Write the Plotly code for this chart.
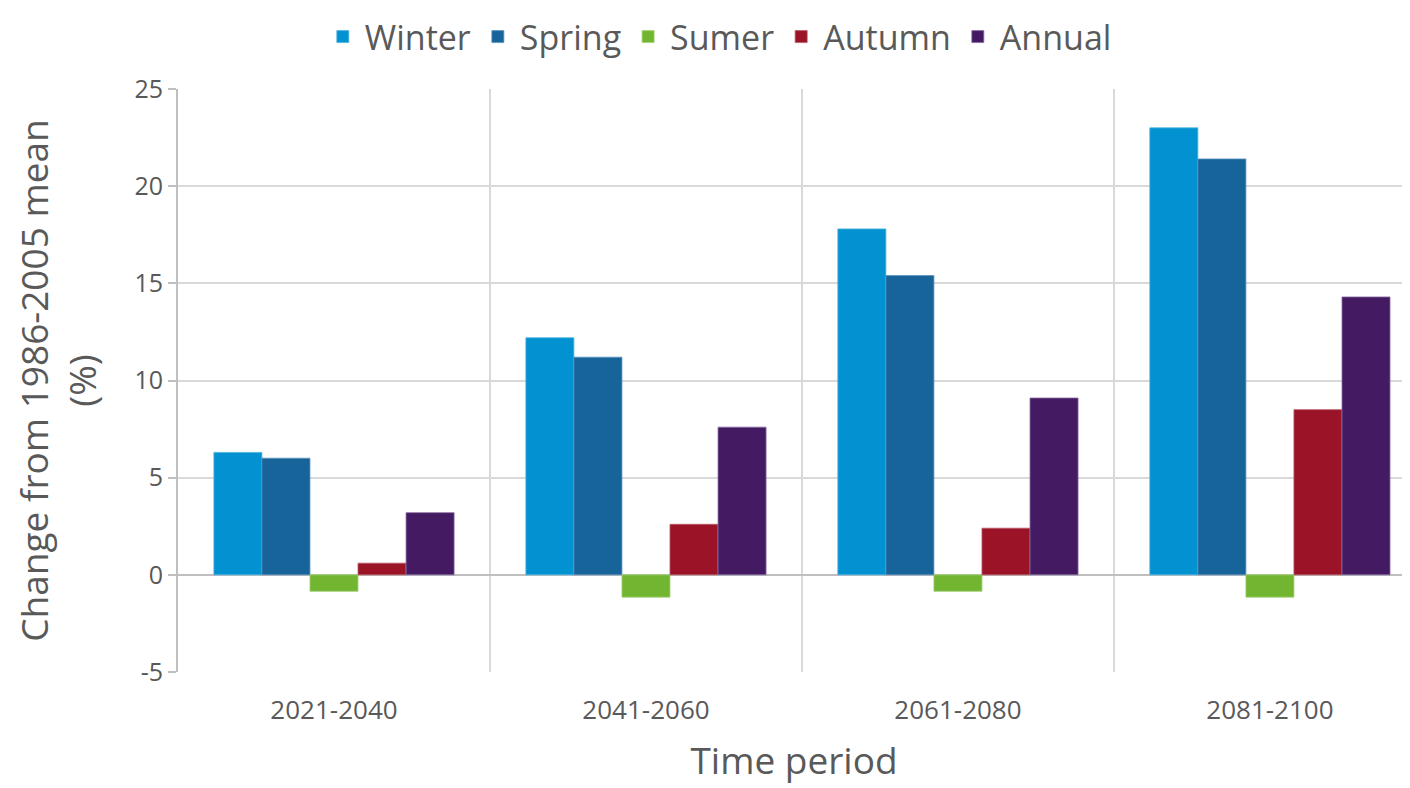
import plotly.graph_objects as go

periods = ["2021-2040", "2041-2060", "2061-2080", "2081-2100"]
winter = [6.3, 12.2, 17.8, 23.0]
spring = [6.0, 11.2, 15.4, 21.4]
sumer = [-0.85, -1.15, -0.85, -1.15]
autumn = [0.6, 2.6, 2.4, 8.5]
annual = [3.2, 7.6, 9.1, 14.3]
y_ticks = [-5, 0, 5, 10, 15, 20, 25]
y_tick_labels = ["-5", "0", "5", "10", "15", "20", "25"]

series = [
    ("Winter", winter, "#0292D2", "#4fb3e0"),
    ("Spring", spring, "#17649A", "#5b92bd"),
    ("Sumer", sumer, "#72B531", "#a3d07a"),
    ("Autumn", autumn, "#9A1326", "#b85a68"),
    ("Annual", annual, "#441B63", "#8a6ea3"),
]

FONT = "Open Sans"
fig = go.Figure()
for name, vals, col, lcol in series:
    fig.add_trace(go.Bar(
        name=name, x=periods, y=vals,
        marker=dict(color=col, line=dict(color=lcol, width=0.8)),
    ))

fig.update_layout(
    width=1402, height=780,
    barmode="group", bargap=0.23, bargroupgap=0,
    plot_bgcolor="white", paper_bgcolor="white",
    margin=dict(l=170, r=0, t=81, b=116, autoexpand=False),
    font=dict(family=FONT, color="#595959"),
    legend=dict(orientation="h", x=0.507, xref="container", xanchor="center",
                y=1.0, yref="container", yanchor="top",
                font=dict(size=34, color="#595959"), itemwidth=34,
                traceorder="normal"),
    showlegend=True,
)
fig.update_xaxes(
    type="category", range=[-0.5, 3.449],
    tickson="boundaries", showgrid=True, gridcolor="#d9d9d9", gridwidth=2,
    ticks="", tickfont=dict(size=26, color="#595959"), ticklabelstandoff=20,
    title=dict(text="Time period", font=dict(size=37, color="#595959"), standoff=22),
    showline=False,
)
fig.update_yaxes(
    range=[-5, 25], tickmode="array", tickvals=y_ticks, ticktext=y_tick_labels,
    showgrid=True, gridcolor="#d9d9d9", gridwidth=2,
    zeroline=True, zerolinecolor="#bfbfbf", zerolinewidth=2,
    showline=True, linecolor="#bfbfbf", linewidth=2,
    ticks="outside", ticklen=8, tickcolor="#bfbfbf", tickwidth=2,
    tickfont=dict(size=25, color="#595959"),
    title=dict(text="Change from 1986-2005 mean<br>(%)", font=dict(size=37, color="#595959"), standoff=40),
)

fig.write_html("out.html")
